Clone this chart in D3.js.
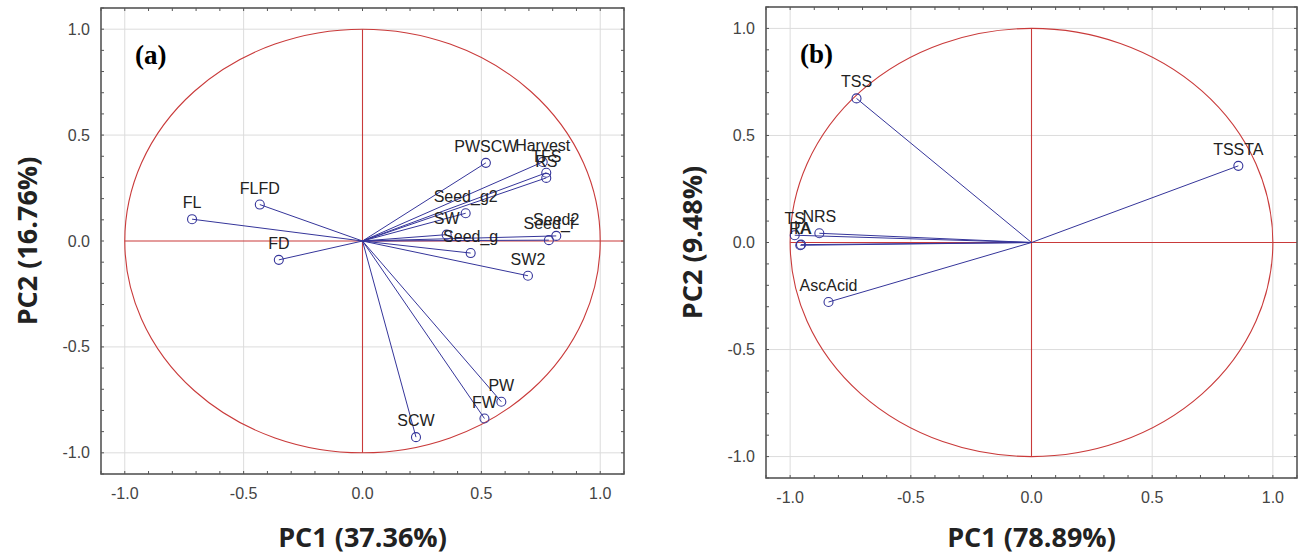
<!DOCTYPE html>
<html><head><meta charset="utf-8">
<script src="https://cdn.jsdelivr.net/npm/d3@7"></script>
<style>body{margin:0;background:#fff}svg{display:block}</style>
</head><body>
<svg id="chart" width="1304" height="556"></svg>
<script>
// ---- data ----
const tickValues = [-1.0, -0.5, 0.0, 0.5, 1.0];
const tickLabels = ["-1.0", "-0.5", "0.0", "0.5", "1.0"];

const panelALabels = ["FL","FLFD","FD","PWSCW","Harvest","TFS","RS","Seed_g2","SW","Seed_g","Seed_f","Seed2","SW2","PW","FW","SCW"];
const panelAPC1 = [-0.717,-0.432,-0.352,0.519,0.758,0.773,0.773,0.434,0.354,0.455,0.784,0.815,0.696,0.584,0.513,0.225];
const panelAPC2 = [0.103,0.172,-0.089,0.369,0.373,0.322,0.298,0.131,0.030,-0.057,0.004,0.024,-0.164,-0.759,-0.838,-0.926];

const panelBLabels = ["TSS","TSSTA","TS","NRS","RA","TA","AscAcid"];
const panelBPC1 = [-0.725,0.857,-0.981,-0.879,-0.958,-0.955,-0.841];
const panelBPC2 = [0.673,0.358,0.034,0.043,-0.013,-0.010,-0.278];

const panels = [
  {tag:"(a)", xTitle:"PC1 (37.36%)", yTitle:"PC2 (16.76%)", labels:panelALabels, pc1:panelAPC1, pc2:panelAPC2,
   left:101, right:624, top:8, bottom:474, yTitleX:30},
  {tag:"(b)", xTitle:"PC1 (78.89%)", yTitle:"PC2 (9.48%)", labels:panelBLabels, pc1:panelBPC1, pc2:panelBPC2,
   left:766, right:1297, top:7, bottom:478, yTitleX:695}
];

const svg = d3.select("#chart");
const RED = "#c93a3a", BLUE = "#35359a";
const FONT = "Arial, 'Liberation Sans', sans-serif";

panels.forEach(p => {
  const x = d3.scaleLinear().domain([-1.1, 1.1]).range([p.left, p.right]);
  const y = d3.scaleLinear().domain([-1.1, 1.1]).range([p.bottom, p.top]);
  const g = svg.append("g");

  // grid
  const gridVals = [-1, -0.5, 0.5, 1];
  g.selectAll(".gx").data(gridVals).join("line")
    .attr("x1", d => x(d)).attr("x2", d => x(d)).attr("y1", p.top).attr("y2", p.bottom)
    .attr("stroke", "#dcdcdc").attr("stroke-width", 1);
  g.selectAll(".gy").data(gridVals).join("line")
    .attr("y1", d => y(d)).attr("y2", d => y(d)).attr("x1", p.left).attr("x2", p.right)
    .attr("stroke", "#dcdcdc").attr("stroke-width", 1);

  // minor ticks every 0.1 on all sides (inward)
  const minor = d3.range(-11, 12).map(i => i / 10);
  const tl = 3;
  minor.forEach(v => {
    g.append("line").attr("x1", x(v)).attr("x2", x(v)).attr("y1", p.bottom).attr("y2", p.bottom - tl).attr("stroke", "#555");
    g.append("line").attr("x1", x(v)).attr("x2", x(v)).attr("y1", p.top).attr("y2", p.top + tl).attr("stroke", "#555");
    g.append("line").attr("y1", y(v)).attr("y2", y(v)).attr("x1", p.left).attr("x2", p.left + tl).attr("stroke", "#555");
    g.append("line").attr("y1", y(v)).attr("y2", y(v)).attr("x1", p.right).attr("x2", p.right - tl).attr("stroke", "#555");
  });

  // unit circle and axes lines
  g.append("ellipse").attr("cx", x(0)).attr("cy", y(0))
    .attr("rx", x(1) - x(0)).attr("ry", y(0) - y(1))
    .attr("fill", "none").attr("stroke", RED).attr("stroke-width", 1.1);
  g.append("line").attr("x1", x(-1)).attr("x2", p.right).attr("y1", y(0)).attr("y2", y(0))
    .attr("stroke", RED).attr("stroke-width", 1.1);
  g.append("line").attr("x1", x(0)).attr("x2", x(0)).attr("y1", y(1)).attr("y2", y(-1))
    .attr("stroke", RED).attr("stroke-width", 1.1);

  // frame
  g.append("rect").attr("x", p.left).attr("y", p.top)
    .attr("width", p.right - p.left).attr("height", p.bottom - p.top)
    .attr("fill", "none").attr("stroke", "#555").attr("stroke-width", 1.6);

  // tick labels
  g.selectAll(".xt").data(tickValues).join("text")
    .attr("x", d => x(d)).attr("y", p.bottom + 25)
    .attr("text-anchor", "middle").attr("font-family", FONT)
    .attr("font-size", 16).attr("fill", "#444").text((d, i) => tickLabels[i]);
  g.selectAll(".yt").data(tickValues).join("text")
    .attr("x", p.left - 11).attr("y", d => y(d) + 5.5)
    .attr("text-anchor", "end").attr("font-family", FONT)
    .attr("font-size", 16).attr("fill", "#444").text((d, i) => tickLabels[i]);

  // vectors
  const pts = p.labels.map((l, i) => ({label: l, a: p.pc1[i], b: p.pc2[i]}));
  g.selectAll(".vec").data(pts).join("line")
    .attr("x1", x(0)).attr("y1", y(0)).attr("x2", d => x(d.a)).attr("y2", d => y(d.b))
    .attr("stroke", BLUE).attr("stroke-width", 1);
  g.selectAll(".pt").data(pts).join("circle")
    .attr("cx", d => x(d.a)).attr("cy", d => y(d.b)).attr("r", 4.5)
    .attr("fill", "none").attr("stroke", BLUE).attr("stroke-width", 1.1);
  g.selectAll(".lbl").data(pts).join("text")
    .attr("x", d => x(d.a)).attr("y", d => y(d.b) - 11)
    .attr("text-anchor", "middle").attr("font-family", FONT)
    .attr("font-size", 16).attr("fill", "#222").text(d => d.label);

  // panel tag
  g.append("text").attr("x", p.left + 34).attr("y", p.top + 56)
    .attr("font-family", "'Liberation Serif', 'Times New Roman', serif").attr("font-weight", "bold")
    .attr("font-size", 27).attr("fill", "#000").text(p.tag);

  // axis titles
  g.append("text").attr("x", x(0)).attr("y", 547)
    .attr("text-anchor", "middle").attr("font-family", "'Open Sans', sans-serif").attr("font-weight", "bold")
    .attr("font-size", 27).attr("fill", "#222").text(p.xTitle);
  g.append("text").attr("transform", `translate(${p.yTitleX},${y(0)}) rotate(-90)`)
    .attr("text-anchor", "middle").attr("dominant-baseline", "middle")
    .attr("font-family", "'Open Sans', sans-serif").attr("font-weight", "bold")
    .attr("font-size", 27).attr("fill", "#222").text(p.yTitle);
});
</script>
</body></html>
